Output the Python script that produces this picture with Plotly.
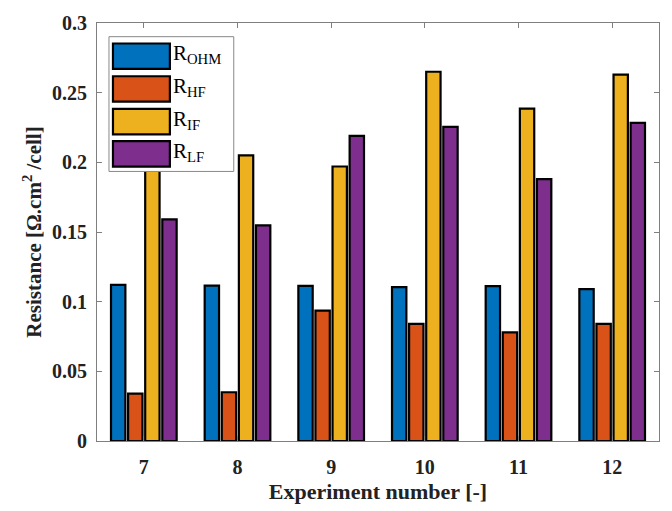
import plotly.graph_objects as go

experiments = ["7", "8", "9", "10", "11", "12"]
series_names = ["R<sub>OHM</sub>", "R<sub>HF</sub>", "R<sub>IF</sub>", "R<sub>LF</sub>"]
r_ohm = [0.112, 0.1115, 0.1113, 0.1105, 0.1112, 0.109]
r_hf = [0.034, 0.035, 0.0935, 0.084, 0.078, 0.084]
r_if = [0.245, 0.205, 0.197, 0.265, 0.2385, 0.263]
r_lf = [0.159, 0.1547, 0.219, 0.2255, 0.188, 0.2283]
colors = ["#0072BD", "#D95319", "#EDB120", "#7E2F8E"]
y_ticks = [0, 0.05, 0.1, 0.15, 0.2, 0.25, 0.3]
y_tick_labels = ["0", "0.05", "0.1", "0.15", "0.2", "0.25", "0.3"]

W, H = 672, 511
ML, MR, MT, MB = 97, 12, 16, 67
PW, PH = W - ML - MR, H - MT - MB

def px(x):
    return (x - ML) / PW

def py(y):
    return (H - MB - y) / PH

fig = go.Figure()
for name, vals, col in zip(series_names, [r_ohm, r_hf, r_if, r_lf], colors):
    fig.add_trace(go.Bar(x=experiments, y=vals, name=name,
                         marker=dict(color=col, line=dict(color="black", width=2.2)),
                         showlegend=False))

font_family = "Liberation Serif"

# custom legend (box, swatches, labels)
shapes = [dict(type="rect", xref="paper", yref="paper",
               x0=px(109), x1=px(234), y0=py(168), y1=py(30),
               line=dict(color="#888888", width=1), fillcolor="white", layer="above")]
annotations = []
row_centers = [50, 83.5, 117, 150]
for name, col, cy in zip(series_names, colors, row_centers):
    shapes.append(dict(type="rect", xref="paper", yref="paper",
                       x0=px(113), x1=px(170), y0=py(cy + 13), y1=py(cy - 13),
                       line=dict(color="black", width=2.2), fillcolor=col, layer="above"))
    annotations.append(dict(text=name, xref="paper", yref="paper", x=px(171), y=py(cy - 2),
                            xanchor="left", yanchor="middle", showarrow=False,
                            font=dict(family=font_family, size=21, color="black")))

tick_font = dict(size=20, family=font_family, color="#222222")

fig.update_layout(
    width=W, height=H,
    margin=dict(l=ML, r=MR, t=MT, b=MB),
    plot_bgcolor="white", paper_bgcolor="white",
    barmode="group", bargap=0.27, bargroupgap=0.16,
    font=dict(family=font_family, color="#222222"),
    shapes=shapes, annotations=annotations,
    xaxis=dict(showline=True, linecolor="#7f7f7f", linewidth=1, mirror="ticks",
               ticks="inside", ticklen=5, tickcolor="#7f7f7f",
               tickvals=experiments, ticktext=["<b>" + e + "</b>" for e in experiments],
               tickfont=tick_font, ticklabelstandoff=8,
               title=dict(text="<b>Experiment number [-]</b>", standoff=6,
                          font=dict(size=22, family=font_family, color="#222222"))),
    yaxis=dict(range=[0, 0.3], tickvals=y_ticks,
               ticktext=["<b>" + t + "</b>" for t in y_tick_labels],
               showline=True, linecolor="#7f7f7f", linewidth=1, mirror="ticks",
               ticks="inside", ticklen=5, tickcolor="#7f7f7f", showgrid=False, zeroline=False,
               tickfont=tick_font, ticklabelstandoff=5,
               title=dict(text="<b>Resistance [Ω.cm<sup>2</sup> /cell]</b>", standoff=4,
                          font=dict(size=21, family=font_family, color="#222222"))),
)

fig.write_html("out.html")
